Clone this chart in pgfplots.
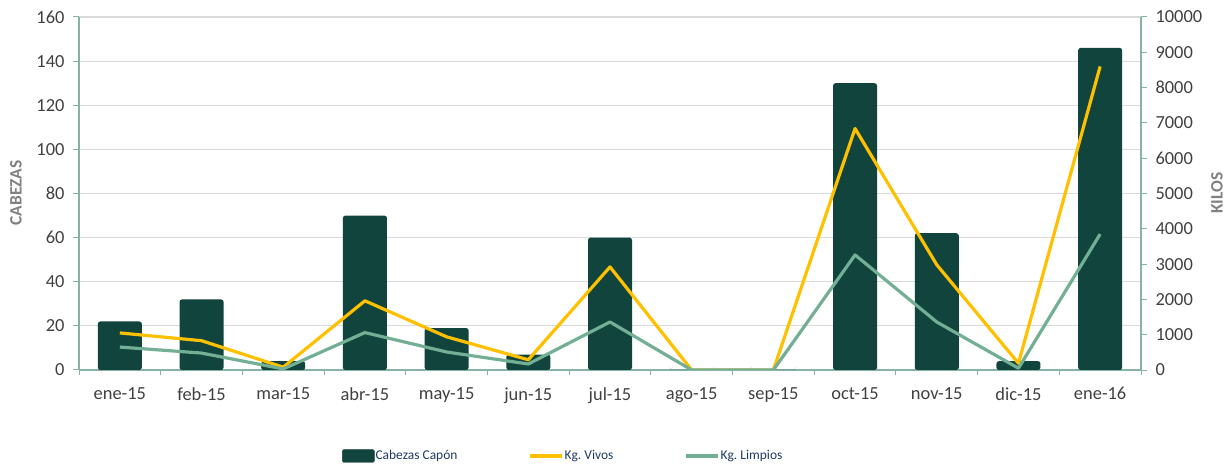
\documentclass[border=0pt]{standalone}
\usepackage{pgfplots}
\pgfplotsset{compat=1.18}
\usepackage{fontspec}
\setmainfont{Carlito}
\frenchspacing
\definecolor{barc}{HTML}{10443C}
\definecolor{yel}{HTML}{FFC000}
\definecolor{grn}{HTML}{72AF94}
\definecolor{axisc}{HTML}{86B3A6}
\definecolor{gridc}{HTML}{D9D9D9}
\definecolor{tickc}{HTML}{404040}
\definecolor{labc}{HTML}{808080}
\definecolor{legc}{HTML}{1F3864}
\begin{document}
\begin{tikzpicture}
\pgfplotsset{
 base/.style={scale only axis, width=1062bp, height=353bp, at={(79bp,102bp)}, anchor=south west,
   xmin=-0.5, xmax=12.5, tick align=outside, scaled ticks=false,
   /pgf/number format/assume math mode=true, /pgf/number format/1000 sep={},
   tick label style={font=\fontsize{18.5}{20}\selectfont, text=tickc},
   axis line style={draw=axisc, line width=1.3bp},
   major tick style={draw=axisc, line width=1bp}, major tick length=6bp},
}
\begin{axis}[base, ymin=0, ymax=160, ytick={0,20,...,160},
  axis x line*=bottom, axis y line*=left,
  ymajorgrids, grid style={draw=gridc, line width=1.2bp},
  xtick={0,...,12},
  xticklabels={ene-15,feb-15,mar-15,abr-15,may-15,jun-15,jul-15,ago-15,sep-15,oct-15,nov-15,dic-15,ene-16},
  major x tick style={draw=none},
  minor xtick={-0.5,0.5,...,12.5}, minor tick length=5bp,
  minor x tick style={draw=axisc, line width=1bp},
  yticklabel style={xshift=-5bp},
  xticklabel style={yshift=-8bp},
  ]
\addplot[ybar, bar width=44bp, fill=barc, draw=none, rounded corners=2.5bp] coordinates {
 (0,22) (1,32) (2,4) (3,70) (4,19) (5,7) (6,60) (7,0) (8,0) (9,130) (10,62) (11,4) (12,146)};
\end{axis}
\begin{axis}[base, ymin=0, ymax=10000, ytick={0,1000,...,10000},
  axis y line*=right, axis x line=none,
  yticklabel style={xshift=5bp},
  legend columns=3,
  legend style={at={(0.2476,-0.2436)}, anchor=west, draw=none, fill=none,
    font=\fontsize{13.5}{15}\selectfont, text=legc, inner sep=0pt,
    nodes={inner sep=1bp},
    /tikz/every even column/.append style={column sep=70bp}},
  legend image code/.code={\draw[#1, line width=3.2bp] (0bp,0bp) -- (32bp,0bp);},
  ]
\addlegendimage{legend image code/.code={\fill[barc, rounded corners=1.5bp] (0bp,-6.5bp) rectangle (32bp,6.5bp);}}
\addlegendentry{Cabezas Capón}
\addplot[yel, line width=3.2bp, line join=round, mark=none] coordinates {
 (0,1050) (1,830) (2,80) (3,1960) (4,940) (5,290) (6,2920) (7,0) (8,0) (9,6840) (10,2980) (11,190) (12,8600)};
\addlegendentry{Kg. Vivos}
\addplot[grn, line width=3.2bp, line join=round, mark=none] coordinates {
 (0,650) (1,480) (2,30) (3,1060) (4,510) (5,170) (6,1360) (7,0) (8,0) (9,3260) (10,1360) (11,50) (12,3850)};
\addlegendentry{Kg. Limpios}
\end{axis}
\node[rotate=90, font=\bfseries\fontsize{17.5}{20}\selectfont, text=labc] at (16bp,279bp) {CABEZAS};
\node[rotate=90, font=\bfseries\fontsize{17.5}{20}\selectfont, text=labc] at (1217bp,279bp) {KILOS};
\pgfresetboundingbox
\path (0,0) rectangle (1229bp,472bp);
\end{tikzpicture}
\end{document}
